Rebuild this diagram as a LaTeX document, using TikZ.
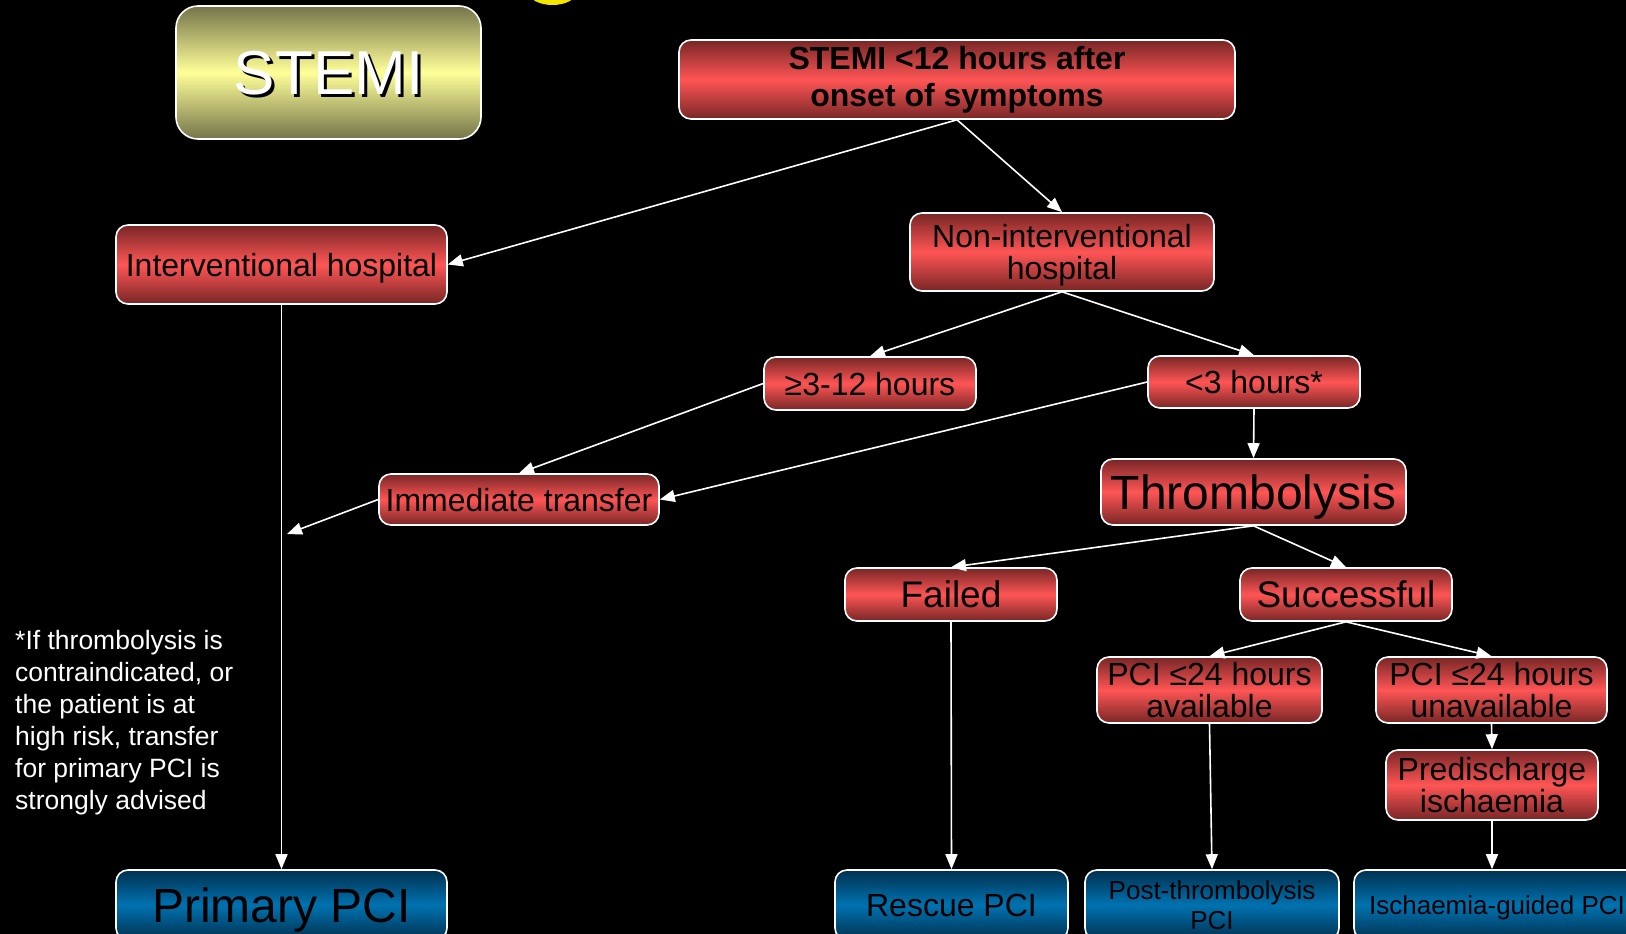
\documentclass[tikz,border=0pt]{standalone}
\usepackage{fontspec}
\setmainfont{Liberation Sans}
\usetikzlibrary{arrows.meta}
\definecolor{redMid}{HTML}{FF5555}
\definecolor{redDark}{HTML}{782626}
\definecolor{blueMid}{HTML}{0072B0}
\definecolor{blueDark}{HTML}{00304F}
\definecolor{olivMid}{HTML}{FFFF99}
\definecolor{olivDark}{HTML}{74744A}
\definecolor{sunYellow}{HTML}{F2E600}
\newcommand{\boxfont}[2]{\fontsize{#1}{#2}\selectfont}
\tikzset{box/.style={draw=white, line width=1.6pt, rounded corners=12pt, inner sep=0pt, align=center, text=black, text depth=0pt}}
\tikzset{redbox/.style={box, top color=redDark, bottom color=redDark, middle color=redMid, font=\boxfont{32}{32}}}
\tikzset{bluebox/.style={box, top color=blueDark, bottom color=blueDark, middle color=blueMid, minimum height=70pt}}
\tikzset{flow/.style={white, line width=1.6pt, -{Triangle[length=15pt,width=12pt]}}}

\begin{document}
\begin{tikzpicture}[x=1pt,y=-1pt]
	\clip (0,0) rectangle (1626,934);
	\fill[black] (0,0) rectangle (1626,934);
	\fill[sunYellow] (552.5,-8) ellipse [x radius=24pt, y radius=13pt];

	% title box
	\node[box, rounded corners=22pt, top color=olivDark, bottom color=olivDark, middle color=olivMid, minimum width=305pt, minimum height=133pt] (stemi) at (328.5,72.5) {};
	\node[text=black, font=\boxfont{62}{62}] (stemishadow) at ([xshift=3pt,yshift=-4pt]stemi.center) {STEMI};
	\node[text=white, font=\boxfont{62}{62}] (stemitext) at ([yshift=-1pt]stemi.center) {STEMI};

	% decision boxes
	\node[redbox, text depth=7pt, minimum width=556pt, minimum height=79pt, font=\bfseries\boxfont{32}{37}] (onset) at (957,79.5) {STEMI <12 hours after\\onset of symptoms};
	\node[redbox, minimum width=331pt, minimum height=79pt] (interv) at (281.5,264.5) {Interventional hospital};
	\node[redbox, minimum width=304pt, minimum height=78pt] (nonint) at (1062,252) {Non-interventional\\hospital};
	\node[redbox, minimum width=212pt, minimum height=53pt] (late) at (870,383.5) {≥3-12 hours};
	\node[redbox, minimum width=212pt, minimum height=52pt] (early) at (1254,382) {<3 hours*};
	\node[redbox, minimum width=280pt, minimum height=51pt] (immed) at (519,499.5) {Immediate transfer};
	\node[redbox, minimum width=305pt, minimum height=66pt, font=\boxfont{48}{48}] (thromb) at (1253.5,492) {Thrombolysis};
	\node[redbox, minimum width=212pt, minimum height=53pt, font=\boxfont{37}{37}] (failed) at (951,594.5) {Failed};
	\node[redbox, minimum width=212pt, minimum height=53pt, font=\boxfont{37}{37}] (success) at (1346,594.5) {Successful};
	\node[redbox, minimum width=225pt, minimum height=66pt] (avail) at (1209.5,690) {PCI ≤24 hours\\available};
	\node[redbox, minimum width=231pt, minimum height=66pt] (unavail) at (1491.5,690) {PCI ≤24 hours\\unavailable};
	\node[redbox, minimum width=212pt, minimum height=70pt] (predis) at (1492,785) {Predischarge\\ischaemia};

	% outcomes
	\node[bluebox, minimum width=331pt, font=\boxfont{48}{48}] (primary) at (281.5,905) {Primary PCI};
	\node[bluebox, minimum width=233pt, font=\boxfont{32}{32}] (rescue) at (951.5,905) {Rescue PCI};
	\node[bluebox, minimum width=254pt, font=\boxfont{26}{30}] (postpci) at (1212,905) {Post-thrombolysis\\PCI};
	\node[bluebox, minimum width=286pt, font=\boxfont{26}{30}] (guided) at (1497,905) {Ischaemia-guided PCI};

	\node[anchor=north west, inner sep=0pt, align=left, text=white, font=\boxfont{26.5}{32}] (note) at (15,630) {*If thrombolysis is\\contraindicated, or\\the patient is at\\high risk, transfer\\for primary PCI is\\strongly advised};

	\coordinate (merge) at (287,534);

	\draw[flow] (onset.south) -- (interv.east);
	\draw[flow] (onset.south) -- (nonint.north);
	\draw[flow] (nonint.south) -- (late.north);
	\draw[flow] (nonint.south) -- (early.north);
	\draw[flow] (late.west) -- (immed.north);
	\draw[flow] (early.west) -- (immed.east);
	\draw[flow] (immed.west) -- (merge);
	\draw[flow] (interv.south) -- (primary.north);
	\draw[flow] (early.south) -- (thromb.north);
	\draw[flow] (thromb.south) -- (failed.north);
	\draw[flow] (thromb.south) -- (success.north);
	\draw[flow] (success.south) -- (avail.north);
	\draw[flow] (success.south) -- (unavail.north);
	\draw[flow] (failed.south) -- (rescue.north);
	\draw[flow] (avail.south) -- (postpci.north);
	\draw[flow] (unavail.south) -- (predis.north);
	\draw[flow] (predis.south) -- (predis.south |- guided.north);
\end{tikzpicture}
\end{document}
